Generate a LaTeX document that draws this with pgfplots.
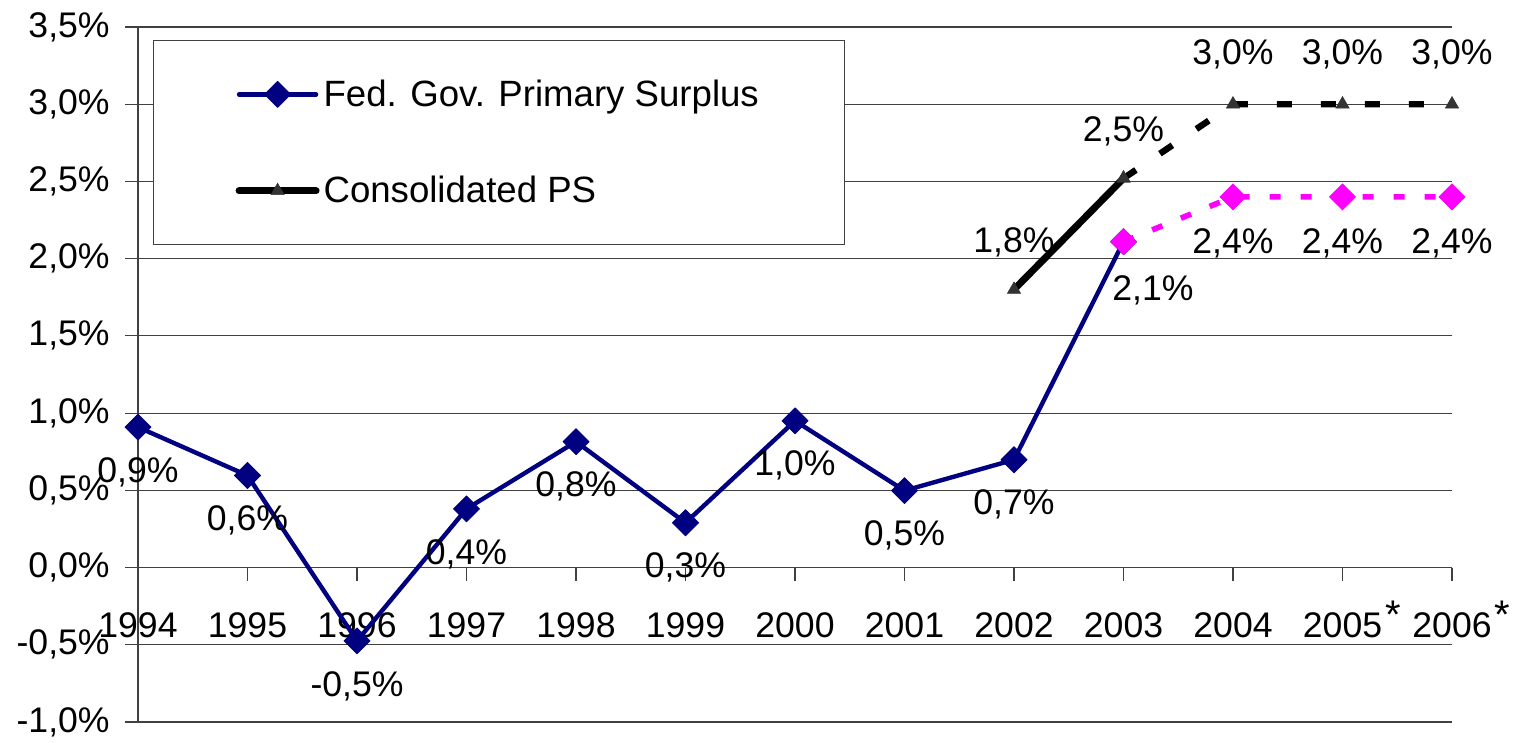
\documentclass[border=0pt]{standalone}
\usepackage{fontspec}
\setmainfont{Liberation Sans}
\usepackage{pgfplots}
\pgfplotsset{compat=1.18}
\definecolor{navy}{HTML}{000080}
\definecolor{mag}{HTML}{FF00FF}
\definecolor{tri}{HTML}{333333}
\newcommand{\fs}{\fontsize{17.8}{21}\selectfont}
\newcommand{\fl}{\fontsize{18.3}{22}\selectfont}
\newcommand{\astmark}{\rlap{\hspace{1.5pt}\smash{\raisebox{0.25em}{\fontsize{20}{22}\selectfont *}}}}
\begin{document}
\begin{tikzpicture}
\begin{axis}[
  scale only axis, width=657pt, height=347.5pt,
  xmin=0, xmax=12, ymin=-1, ymax=3.5,
  axis x line*=middle, axis y line*=left,
  axis line style={black!75, line width=0.6pt},
  xtick={0,1,2,3,4,5,6,7,8,9,10,11,12},
  xticklabels={1994,1995,1996,1997,1998,1999,2000,2001,2002,2003,2004,2005\astmark,2006\astmark},
  ytick={-1,-0.5,0,0.5,1,1.5,2,2.5,3,3.5},
  yticklabels={{-1,0\%},{-0,5\%},{0,0\%},{0,5\%},{1,0\%},{1,5\%},{2,0\%},{2,5\%},{3,0\%},{3,5\%}},
  ymajorgrids, grid style={black!75, line width=0.6pt},
  tick align=outside, major tick length=6.5pt,
  tick style={black!75, line width=0.6pt},
  hide obscured x ticks=false, hide obscured y ticks=false,
  tick label style={font=\fs, text=black},
  yticklabel style={anchor=east, inner sep=0pt, xshift=-7.5pt},
  xticklabel style={anchor=center, inner sep=0pt, yshift=-22.5pt},
  clip=false,
  legend style={at={(0.0114,0.9813)}, anchor=north west, draw=black!75, line width=0.6pt,
    inner xsep=41pt, inner ysep=17.5pt, row sep=29.5pt, font=\fl,
    nodes={inner sep=2pt}},
  legend cell align=left,
  legend image code/.code={\draw[mark repeat=2,mark phase=2,#1] plot coordinates {(0pt,0pt) (19.25pt,0pt) (38.5pt,0pt)};},
  every node near coord/.style={font=\fs, anchor=center, inner sep=0pt, text=black},
]
% Fed. Gov. Primary Surplus
\addplot[navy, line width=2.2pt, line cap=round, line join=round,
  mark=square*, mark size=4.6pt, mark options={rotate=45, solid, line width=0.4pt, fill=navy},
  point meta=explicit symbolic, nodes near coords,
  nodes near coords style={yshift=-22.5pt}]
  coordinates {(0,0.909)[0,9\%] (1,0.596)[0,6\%] (2,-0.475)[-0,5\%] (3,0.380)[0,4\%]
   (4,0.815)[0,8\%] (5,0.290)[0,3\%] (6,0.950)[1,0\%] (7,0.498)[0,5\%] (8,0.698)[0,7\%] (9,2.11)[]};
\addlegendentry{Fed. Gov. Primary Surplus}
% Consolidated PS
\addplot[black, line width=3.5pt, line cap=round,
  mark=triangle*, mark size=3.8pt, mark options={solid, fill=tri, draw=tri, line width=0.3pt},
  point meta=explicit symbolic, nodes near coords,
  nodes near coords style={yshift=23.5pt}]
  coordinates {(8,1.80)[1,8\%] (9,2.52)[2,5\%]};
\addlegendentry{Consolidated PS}
% projections
\addplot[forget plot, mag, line width=2.8pt, dash pattern=on 5.5pt off 10pt,
  mark=square*, mark size=4.6pt, mark options={rotate=45, solid, line width=0.4pt, fill=mag},
  point meta=explicit symbolic, nodes near coords,
  nodes near coords style={yshift=-23pt}]
  coordinates {(9,2.11)[] (10,2.40)[2,4\%] (11,2.40)[2,4\%] (12,2.40)[2,4\%]};
\addplot[forget plot, black, line width=3.2pt, dash pattern=on 7.5pt off 14.5pt,
  mark=triangle*, mark size=3.8pt, mark options={solid, fill=tri, draw=tri, line width=0.3pt},
  point meta=explicit symbolic, nodes near coords,
  nodes near coords style={yshift=25pt}]
  coordinates {(9,2.52)[] (10,3.00)[3,0\%] (11,3.00)[3,0\%] (12,3.00)[3,0\%]};
\addplot[forget plot, draw=none, mark=none,
  point meta=explicit symbolic, nodes near coords,
  nodes near coords style={xshift=14.75pt, yshift=-24.5pt}]
  coordinates {(9,2.11)[2,1\%]};
\coordinate (bbsw) at (rel axis cs:0,0);
\coordinate (bbne) at (rel axis cs:1,1);
\end{axis}
\pgfresetboundingbox
\path[use as bounding box] ([xshift=-69pt,yshift=-10.5pt]bbsw) rectangle ([xshift=31pt,yshift=13.5pt]bbne);
\end{tikzpicture}
\end{document}
